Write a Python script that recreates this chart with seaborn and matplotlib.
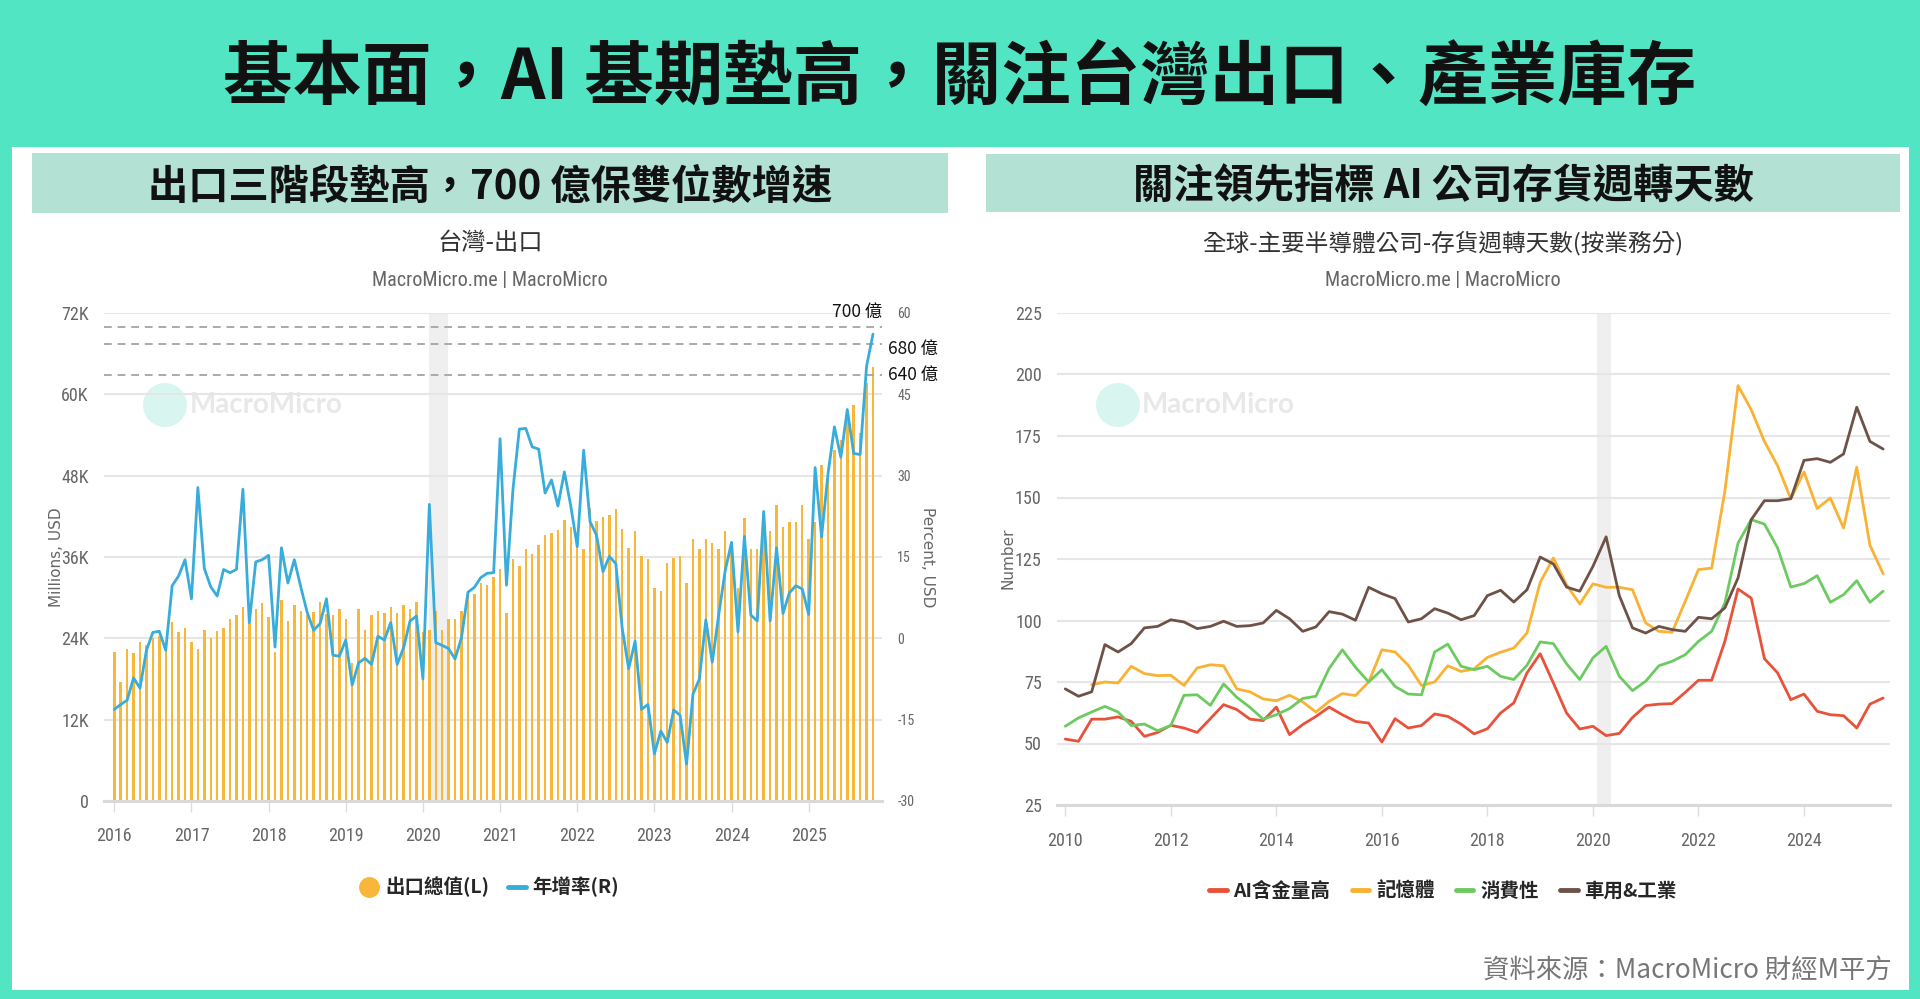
import os
import glob
import numpy as np
import pandas as pd
import matplotlib
matplotlib.use("Agg")
import matplotlib.pyplot as plt
import seaborn as sns
from matplotlib.lines import Line2D
from matplotlib.patches import Rectangle, Ellipse
from matplotlib import font_manager as fm
from matplotlib.font_manager import FontProperties

# ---------------- data ----------------
TITLE = "基本面，AI 基期墊高，關注台灣出口、產業庫存"
LEFT_HEADER = "出口三階段墊高，700 億保雙位數增速"
RIGHT_HEADER = "關注領先指標 AI 公司存貨週轉天數"
LEFT_TITLE = "台灣-出口"
RIGHT_TITLE = "全球-主要半導體公司-存貨週轉天數(按業務分)"
SUBTITLE = "MacroMicro.me | MacroMicro"
FOOTER = "資料來源：MacroMicro 財經M平方"

export_start = "2016-01"
exports_musd = [
    22000, 17500, 22400, 21800, 23400, 23000, 24000, 24300, 22800, 26400, 25000, 25500,
    23500, 22400, 25300, 24000, 25100, 25500, 26900, 27500, 28600, 26300, 28400, 29200,
    27100, 22000, 29600, 26500, 28900, 28100, 27400, 27900, 29400, 27600, 27500, 28300,
    26900, 20300, 28300, 25300, 27500, 28100, 27800, 28600, 27800, 28900, 28400, 29400,
    25000, 25200, 28100, 25200, 26900, 26900, 28100, 30800, 30600, 32200, 31800, 33000,
    34200, 27700, 35700, 34700, 37200, 36400, 37700, 39300, 39600, 40000, 41500, 40500,
    39700, 37200, 43300, 41300, 41900, 42200, 43100, 40100, 37400, 39800, 36100, 35700,
    31400, 31000, 35100, 35900, 36100, 32200, 38600, 37200, 38600, 38000, 37200, 39800,
    38200, 31400, 41700, 37200, 37200, 39500, 39900, 43600, 40500, 41200, 41100, 43600,
    38700, 41200, 49500, 48000, 51800, 53300, 56200, 58400, 54300, 61700, 64000,
]
export_yoy_pct = [
    -13.1, -12.2, -11.4, -7.3, -9.2, -2.2, 1.1, 1.3, -2.2, 9.7, 11.5, 14.5,
    7.3, 27.8, 12.9, 9.5, 7.8, 12.7, 12.1, 12.7, 27.5, 2.9, 14.1, 14.5,
    15.3, -1.6, 16.7, 10.2, 14.5, 9.5, 4.8, 1.5, 2.7, 7.3, -3.1, -3.3,
    -0.3, -8.6, -4.5, -3.7, -4.8, 0.4, -0.3, 2.9, -4.8, -1.7, 3.2, 4.1,
    -7.5, 24.7, -0.8, -1.3, -1.9, -3.8, 0.1, 8.5, 9.4, 11.2, 12.0, 12.1,
    36.8, 9.8, 27.4, 38.6, 38.7, 35.3, 34.9, 26.8, 29.2, 24.4, 30.7, 24.4,
    16.9, 34.7, 21.5, 19.0, 12.3, 15.1, 13.8, 1.8, -5.6, -0.5, -13.1, -12.2,
    -21.3, -17.1, -19.2, -13.2, -14.2, -23.2, -10.3, -7.5, 3.4, -4.4, 4.3, 12.4,
    17.7, 1.2, 18.8, 4.3, 3.2, 23.4, 3.2, 16.7, 4.6, 8.4, 9.7, 9.1,
    4.4, 31.5, 18.7, 30.3, 39.0, 33.4, 42.2, 34.1, 33.9, 50.2, 56.1,
]
ref_levels = [70000, 67400, 62900]
ref_labels = ["700 億", "680 億", "640 億"]
left_yticks = [0, 12000, 24000, 36000, 48000, 60000, 72000]
left_yticklabels = ["0", "12K", "24K", "36K", "48K", "60K", "72K"]
right_yticks = [-30, -15, 0, 15, 30, 45, 60]
recession = ("2020-02", "2020-05")

inv_start_year = 2010
ai_days = [
    51.8, 50.9, 59.9, 59.9, 60.8, 59.0, 52.9, 54.5, 57.4, 56.3, 54.5, 60.1, 65.8, 63.8, 59.9, 59.3,
    64.8, 53.6, 57.7, 61.0, 64.8, 61.7, 59.0, 58.3, 50.6, 60.1, 56.3, 57.3, 62.0, 61.0, 57.9, 53.9,
    56.0, 62.4, 66.5, 78.7, 86.5, 74.6, 62.4, 55.9, 57.0, 53.2, 54.1, 60.6, 65.4, 66.0, 66.2, 70.8,
    75.7, 75.7, 91.5, 112.8, 109.1, 84.5, 78.7, 67.8, 70.1, 63.1, 61.7, 61.3, 56.3, 66.0, 68.5,
]
memory_days = [
    np.nan, np.nan, 73.9, 75.0, 74.6, 81.4, 78.4, 77.6, 77.7, 73.6, 80.7, 82.0, 81.6, 72.2, 71.0, 68.1,
    67.4, 69.6, 66.9, 62.8, 67.1, 70.3, 69.5, 75.0, 88.1, 87.2, 81.8, 73.6, 75.0, 81.6, 79.3, 80.4,
    85.0, 87.1, 88.8, 94.9, 115.5, 125.4, 114.5, 106.7, 114.9, 113.5, 113.5, 112.5, 99.0, 95.6, 95.2, 107.8,
    120.7, 121.3, 152.5, 195.5, 185.7, 172.8, 162.9, 149.5, 160.4, 145.5, 149.8, 137.6, 162.3, 130.6, 119.0,
]
consumer_days = [
    57.0, 60.4, 62.8, 65.1, 62.8, 57.3, 57.9, 55.2, 57.3, 69.6, 69.8, 65.5, 74.2, 68.8, 64.7, 59.9,
    61.7, 64.2, 68.3, 69.2, 80.5, 88.1, 81.0, 75.0, 80.0, 73.2, 70.1, 69.8, 87.2, 90.4, 81.4, 80.0,
    81.4, 77.3, 76.0, 81.8, 91.3, 90.6, 82.4, 76.0, 84.8, 89.5, 77.3, 71.5, 75.3, 81.6, 83.4, 86.1,
    91.5, 95.6, 107.1, 131.5, 141.0, 139.2, 129.5, 113.6, 115.0, 118.2, 107.4, 110.5, 116.2, 107.4, 111.9,
]
auto_industrial_days = [
    72.2, 69.2, 71.0, 90.2, 87.2, 90.6, 97.0, 97.6, 100.3, 99.4, 96.7, 97.6, 99.7, 97.6, 97.9, 99.0,
    104.1, 100.7, 95.6, 97.4, 103.6, 102.6, 100.1, 113.5, 110.9, 108.9, 99.4, 100.7, 104.8, 103.0, 100.3, 102.0,
    110.1, 112.3, 107.5, 112.5, 125.8, 123.0, 113.6, 111.9, 122.0, 134.0, 110.1, 97.0, 94.9, 97.6, 96.3, 95.6,
    101.3, 100.7, 105.1, 117.3, 141.0, 148.7, 148.7, 149.5, 165.1, 165.8, 164.3, 167.7, 186.7, 172.8, 169.7,
]
series_names = ["AI含金量高", "記憶體", "消費性", "車用&工業"]
series_colors = ["#E8523A", "#F9B233", "#6CCB60", "#6E5248"]
inv_yticks = [25, 50, 75, 100, 125, 150, 175, 200, 225]

# ---------------- style ----------------
sns.set_theme(style="white")
CJK = ["Noto Sans CJK TC", "DejaVu Sans"]
plt.rcParams["font.family"] = CJK


def find_narrow():
    files = [f.fname for f in fm.fontManager.ttflist]
    for d in ["/usr/share/fonts", "/usr/local/share/fonts", os.path.expanduser("~/.fonts")]:
        files += glob.glob(os.path.join(d, "**", "*.[ot]tf"), recursive=True)
    keys = ["RobotoCondensed-Regular", "LiberationSansNarrow-Regular",
            "NotoSans-CondensedRegular", "NotoSans-Condensed.", "OpenSans-CondensedRegular",
            "OpenSans_Condensed-Regular", "DejaVuSansCondensed."]
    for k in keys:
        for p in files:
            if k in os.path.basename(p):
                return p
    return None


NARROW_PATH = find_narrow()


def nfp(size):
    if NARROW_PATH:
        return FontProperties(fname=NARROW_PATH, size=size)
    return FontProperties(family="Roboto", size=size * 0.9)


TEAL = "#52E5C4"
HEADER_BG = "#B3E2D5"
BAR_C = "#F8B73A"
LINE_C = "#38ACDB"
GRID_C = "#E6E6E6"
TICK_C = "#666666"

W, H = 1920, 999
fig = plt.figure(figsize=(W / 100, H / 100), dpi=100)
fig.patch.set_facecolor(TEAL)


def fx(x):
    return x / W


def fy(y):
    return 1 - y / H


def rect(x0, y0, x1, y1, color):
    fig.add_artist(Rectangle((fx(x0), fy(y1)), fx(x1) - fx(x0), fy(y0) - fy(y1),
                             transform=fig.transFigure, facecolor=color,
                             edgecolor="none", zorder=-2))


rect(12, 147, 1909, 990, "white")
rect(32, 153, 948, 213, HEADER_BG)
rect(986, 154, 1900, 212, HEADER_BG)

fig.text(fx(960), fy(80), TITLE, ha="center", va="center", fontsize=50,
         fontweight="heavy", family=CJK, color="#111111")
fig.text(fx(490), fy(187), LEFT_HEADER, ha="center", va="center", fontsize=29,
         fontweight="bold", family=CJK, color="#111111")
fig.text(fx(1443), fy(187), RIGHT_HEADER, ha="center", va="center", fontsize=29,
         fontweight="bold", family=CJK, color="#111111")
fig.text(fx(490), fy(243), LEFT_TITLE, ha="center", va="center", fontsize=17.5,
         family=CJK, color="#333333")
fig.text(fx(1443), fy(243), RIGHT_TITLE, ha="center", va="center", fontsize=17,
         family=CJK, color="#333333")
for cx in (490, 1443):
    fig.text(fx(cx), fy(281), SUBTITLE, ha="center", va="center",
             fontproperties=nfp(14.5), color="#666666")
fig.text(fx(1892), fy(970), FOOTER, ha="right", va="center", fontsize=19,
         family=CJK, color="#777777")

# ---------------- left chart ----------------
months = pd.period_range(export_start, periods=len(exports_musd), freq="M")
m_idx = np.arange(len(months))
start_p = pd.Period(export_start, "M")
rec_l0 = (pd.Period(recession[0], "M") - start_p).n
rec_l1 = (pd.Period(recession[1], "M") - start_p).n

ax = fig.add_axes([fx(104), fy(801), fx(882) - fx(104), fy(313) - fy(801)])
ax.set_facecolor("none")


def watermark(a, cx, cy, tx):
    a.add_patch(Ellipse((fx(cx), fy(cy)), 44 / W, 44 / H, transform=fig.transFigure,
                        facecolor="#D8F6EF", edgecolor="none", zorder=0.1))
    a.text(fx(tx), fy(cy), "MacroMicro", transform=fig.transFigure, ha="left",
           va="center", fontsize=20, fontweight="bold", family=["Lato", "DejaVu Sans"],
           color="#E8E8E8", zorder=0.2)


watermark(ax, 165, 405, 190)
ax.axvspan(rec_l0, rec_l1 - 0.05, color="#EFEFEF", lw=0, zorder=0.3)
sns.barplot(x=m_idx, y=exports_musd, ax=ax, native_scale=True, width=0.38,
            color=BAR_C, saturation=1, errorbar=None, linewidth=0, legend=False,
            zorder=2)
ax.set_xlim(-1.6, 119.4)
ax.set_ylim(0, 72000)
ax.set_yticks(left_yticks)
ax.set_yticklabels(left_yticklabels)
year_pos = [i for i, p in enumerate(months) if p.month == 1]
ax.set_xticks(year_pos)
ax.set_xticklabels([str(months[i].year) for i in year_pos])
ax.set_xlabel("")
ax.set_ylabel("Millions, USD", family="DejaVu Sans", fontsize=11, color="#666666")
ax.yaxis.set_label_coords(-0.052, 0.5)
ax.set_axisbelow(True)
ax.grid(axis="y", color=GRID_C, lw=1.5)
ax.grid(axis="x", visible=False)
for s in ["top", "left", "right"]:
    ax.spines[s].set_visible(False)
ax.spines["bottom"].set_color("#D9D9D9")
ax.spines["bottom"].set_linewidth(2.2)
ax.tick_params(axis="x", length=8, width=1, color="#DDDDDD", pad=10.5,
               labelcolor=TICK_C, bottom=True)
ax.tick_params(axis="y", length=0, pad=11, labelcolor=TICK_C)
for lab in ax.get_xticklabels() + ax.get_yticklabels():
    lab.set_fontproperties(nfp(13))

for lvl in ref_levels:
    ax.axhline(lvl, color="#AAAAAA", lw=1.4, ls=(0, (4, 3)), zorder=3)
ax.annotate(ref_labels[0], xy=(1.0, ref_levels[0]), xycoords=("axes fraction", "data"),
            xytext=(0, 4), textcoords="offset points", ha="right", va="bottom",
            fontsize=12.5, family=CJK, color="#111111", annotation_clip=False)
ax.annotate(ref_labels[1], xy=(1.0, ref_levels[1]), xycoords=("axes fraction", "data"),
            xytext=(4, -3.5), textcoords="offset points", ha="left", va="center",
            fontsize=12.5, family=CJK, color="#111111", annotation_clip=False)
ax.annotate(ref_labels[2], xy=(1.0, ref_levels[2]), xycoords=("axes fraction", "data"),
            xytext=(4, 0), textcoords="offset points", ha="left", va="center",
            fontsize=12.5, family=CJK, color="#111111", annotation_clip=False)

ax2 = ax.twinx()
sns.lineplot(x=m_idx, y=export_yoy_pct, ax=ax2, color=LINE_C, linewidth=2.0,
             legend=False, zorder=4)
ax2.set_ylim(-30, 60)
ax2.set_yticks(right_yticks)
ax2.set_yticklabels([str(v) for v in right_yticks])
ax2.set_xlim(-1.6, 119.4)
ax2.grid(False)
for s in ax2.spines.values():
    s.set_visible(False)
ax2.tick_params(axis="y", length=0, pad=11, labelcolor=TICK_C)
for lab in ax2.get_yticklabels():
    lab.set_fontproperties(nfp(10))
ax2.set_ylabel("Percent, USD", family="DejaVu Sans", fontsize=11, color="#666666",
               rotation=270)
ax2.yaxis.set_label_coords(1.068, 0.5)
ax2.set_xlabel("")

leg_font = FontProperties(family=CJK, size=14, weight="bold")
h_left = [Line2D([], [], marker="o", ls="none", markersize=14, color=BAR_C),
          Line2D([], [], color=LINE_C, lw=3.5)]
fig.legend(h_left, ["出口總值(L)", "年增率(R)"], loc="center",
           bbox_to_anchor=(fx(490), fy(887)), ncol=2, frameon=False, prop=leg_font,
           handlelength=0.9, handletextpad=0.35, columnspacing=1.0)

# ---------------- right chart ----------------
n_q = len(ai_days)
q_year = inv_start_year + np.arange(n_q) / 4.0
inv = pd.DataFrame({"year": q_year, series_names[0]: ai_days,
                    series_names[1]: memory_days, series_names[2]: consumer_days,
                    series_names[3]: auto_industrial_days})
inv_long = inv.melt(id_vars="year", var_name="series", value_name="days").dropna()

ax3 = fig.add_axes([fx(1057), fy(805), fx(1890) - fx(1057), fy(313) - fy(805)])
ax3.set_facecolor("none")
watermark(ax3, 1118, 405, 1142)
r0 = pd.Period(recession[0], "M")
r1 = pd.Period(recession[1], "M")
ax3.axvspan(r0.year + (r0.month - 1) / 12, r1.year + (r1.month - 1) / 12,
            color="#EFEFEF", lw=0, zorder=0.3)
sns.lineplot(data=inv_long, x="year", y="days", hue="series", hue_order=series_names,
             palette=dict(zip(series_names, series_colors)), linewidth=2.0,
             legend=False, ax=ax3, zorder=3)
ax3.set_xlim(inv_start_year - 0.157, 2025.63)
ax3.set_ylim(25, 225)
ax3.set_yticks(inv_yticks)
ax3.set_yticklabels([str(v) for v in inv_yticks])
ax3.set_xticks(list(range(2010, 2025, 2)))
ax3.set_xticklabels([str(v) for v in range(2010, 2025, 2)])
ax3.set_xlabel("")
ax3.set_ylabel("Number", family="DejaVu Sans", fontsize=11, color="#666666")
ax3.yaxis.set_label_coords(-0.050, 0.502)
ax3.set_axisbelow(True)
ax3.grid(axis="y", color=GRID_C, lw=1.5)
ax3.grid(axis="x", visible=False)
for s in ["top", "left", "right"]:
    ax3.spines[s].set_visible(False)
ax3.spines["bottom"].set_color("#D9D9D9")
ax3.spines["bottom"].set_linewidth(2.2)
ax3.tick_params(axis="x", length=8, width=1, color="#DDDDDD", pad=11.5,
                labelcolor=TICK_C, bottom=True)
ax3.tick_params(axis="y", length=0, pad=11, labelcolor=TICK_C)
for lab in ax3.get_xticklabels() + ax3.get_yticklabels():
    lab.set_fontproperties(nfp(13))

h_right = [Line2D([], [], color=c, lw=3.5) for c in series_colors]
fig.legend(h_right, series_names, loc="center", bbox_to_anchor=(fx(1443), fy(891)),
           ncol=4, frameon=False, prop=leg_font, handlelength=0.9,
           handletextpad=0.35, columnspacing=1.1)

fig.savefig("out.png", dpi=100, facecolor=fig.get_facecolor())
